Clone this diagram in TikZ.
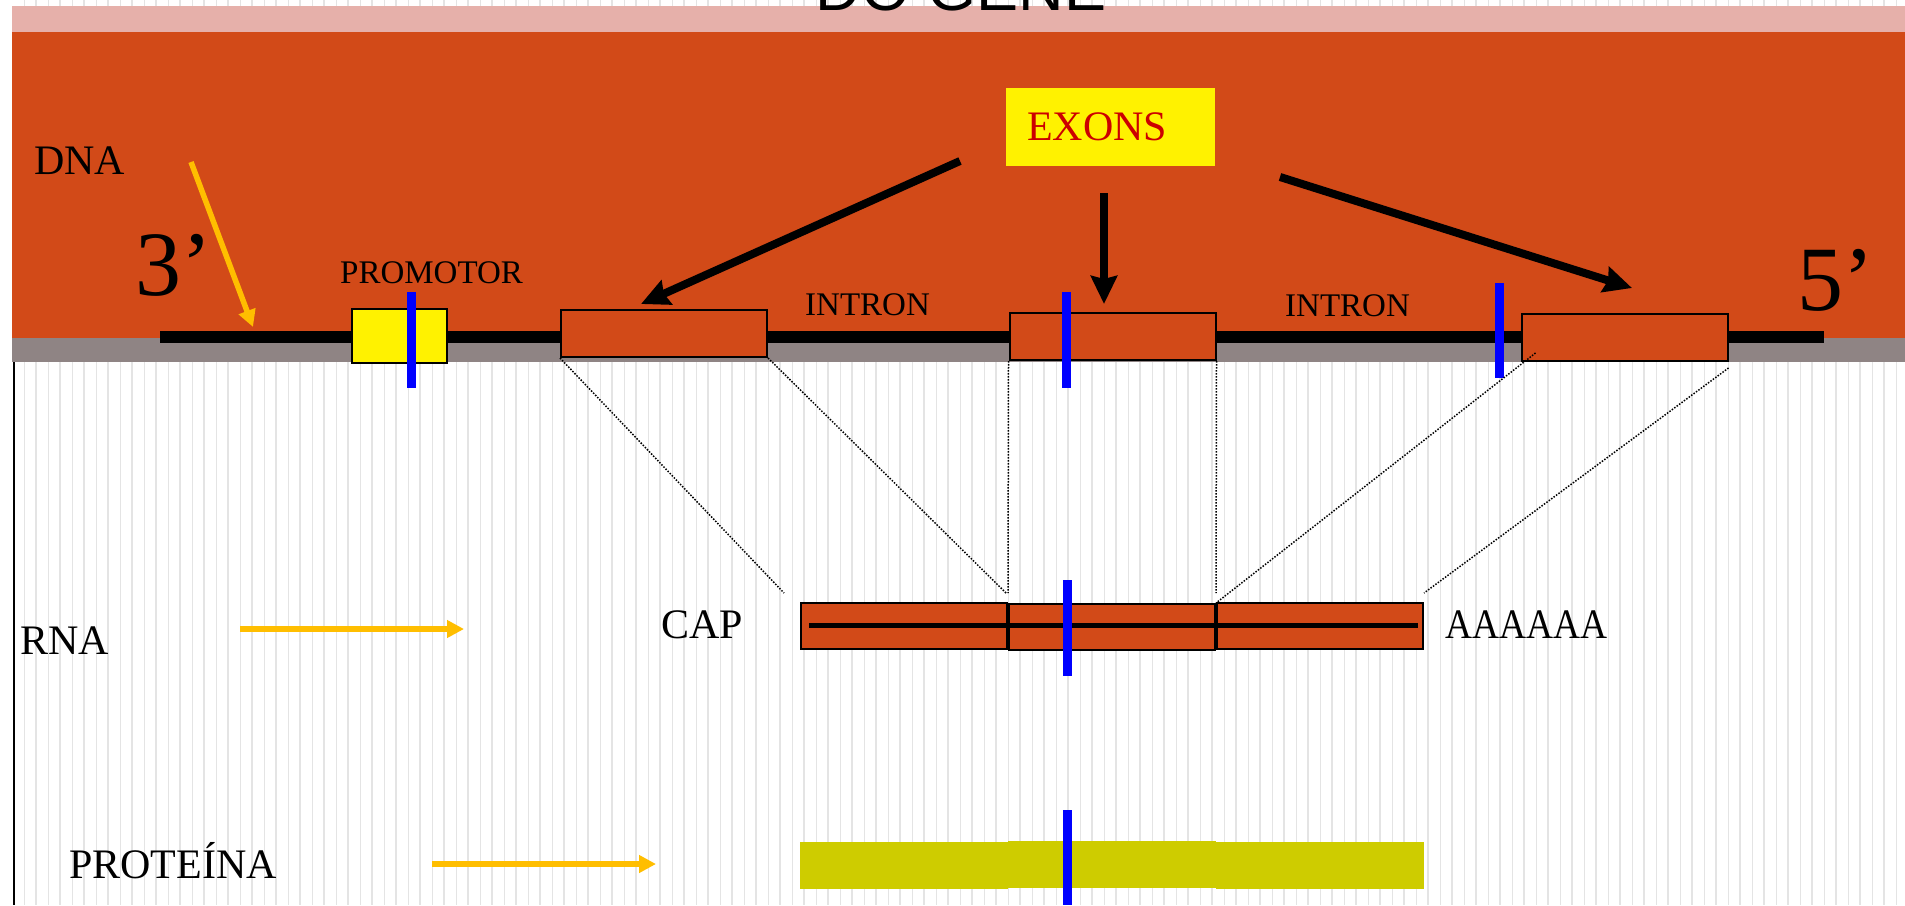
\documentclass[tikz,border=0pt]{standalone}
\usepackage{fontspec}
\setmainfont{Liberation Serif}
\newfontfamily\titlefont{Liberation Sans}
\usepackage{tikz}
\usetikzlibrary{arrows.meta, positioning, calc}
\definecolor{dnaorange}{RGB}{210, 74, 24}
\definecolor{bandpink}{RGB}{230, 176, 170}
\definecolor{bandgray}{RGB}{143, 132, 132}
\definecolor{markblue}{RGB}{0, 0, 255}
\definecolor{arrowgold}{RGB}{255, 190, 0}
\definecolor{protyellow}{RGB}{206, 204, 0}
\definecolor{exonred}{RGB}{204, 0, 0}
\definecolor{stripegray}{RGB}{228, 228, 228}

\tikzset{
    exonbox/.style={draw=black, line width=2pt, fill=dnaorange, inner sep=0pt,
                    minimum width=206pt, minimum height=47pt},
    rnabox/.style={exonbox, minimum height=46pt},
    protbox/.style={fill=protyellow, inner sep=0pt, minimum width=208pt, minimum height=47pt},
    bluebar/.style={draw=markblue, line width=9pt},
    splice/.style={black, line width=1.5pt, dash pattern=on 1.5pt off 1.5pt},
    exarrow/.style={line width=8pt, -{Stealth[length=28pt, width=26pt, inset=3pt]}},
    goldarrow/.style={arrowgold, line width=5.5pt, -{Triangle[length=17pt, width=17pt]}},
    lbl/.style={inner sep=0pt, anchor=base west, font=\fontsize{42}{48}\selectfont},
    sublbl/.style={lbl, font=\fontsize{33}{38}\selectfont},
    endlbl/.style={lbl, font=\fontsize{92}{100}\selectfont}
}

\begin{document}
\begin{tikzpicture}[x=1pt, y=-1pt]
    \useasboundingbox (0,0) rectangle (1905,905);
    \clip (0,0) rectangle (1905,905);
    \fill[white] (0,0) rectangle (1905,905);
    \foreach \x [count=\i] in {24,36,...,1900}
        \draw[stripegray, line width={mod(\i,2)==0 ? 1.8pt : 1pt}] (\x,0) -- (\x,905);

    \fill[bandpink] (12,6) rectangle (1905,32);
    \fill[dnaorange] (12,32) rectangle (1905,338);
    \fill[bandgray] (12,338) rectangle (1905,362);
    \draw[line width=1.5pt] (14,362) -- (14,905);

    \node[inner sep=0pt, anchor=base, font=\titlefont\fontsize{63}{70}\selectfont] (title) at (961,10) {DO GENE};

    \coordinate (dna3) at (160,337);
    \coordinate (dna5) at (1824,337);
    \draw[line width=12pt] (dna3) -- (dna5);

    \node[draw=black, line width=2pt, fill=yellow, inner sep=0pt,
          minimum width=95pt, minimum height=54pt] (promotor) at (399.5,336) {};
    \node[exonbox] (exonA) at (664,333.5) {};
    \node[exonbox] (exonB) at (1112.5,336.5) {};
    \node[exonbox] (exonC) at (1624.5,337.5) {};

    \draw[bluebar] (411,292) -- (411,388);
    \draw[bluebar] (1066,292) -- (1066,388);
    \draw[bluebar] (1499,283) -- (1499,378);

    \node[lbl] (dna) at (34,174) {DNA};
    \node[endlbl] (three) at (135,295) {3’};
    \node[endlbl] (five) at (1797,310) {5’};
    \node[sublbl] (promlbl) at (340,283) {PROMOTOR};
    \node[sublbl] (intronA) at (805,315) {INTRON};
    \node[sublbl] (intronB) at (1285,316) {INTRON};

    \node[fill=yellow, text=exonred, font=\fontsize{42}{48}\selectfont, inner xsep=21pt, inner ysep=0pt,
          text width=167pt, align=left, minimum height=78pt] (exons) at (1110.5,127) {EXONS};

    \coordinate (ptrA) at (960,161);
    \coordinate (ptrB) at (1104,193);
    \coordinate (ptrC) at (1280,177);
    \draw[exarrow] (ptrA) -- ($(exonA.north)+(-23,-5)$);
    \draw[exarrow] (ptrB) -- ($(exonB.north)+(-8.5,-8)$);
    \draw[exarrow] (ptrC) -- ($(exonC.north)+(7.5,-25)$);

    \coordinate (dnaptr) at (191,162);
    \draw[goldarrow] (dnaptr) -- (253,327);

    \node[rnabox] (rnaA) at (904,626) {};
    \node[rnabox] (rnaB) at (1112,627) {};
    \node[rnabox] (rnaC) at (1320,626) {};
    \draw[line width=5pt] ($(rnaA.west)+(9,-1)$) -- ($(rnaC.east)+(-6,-1)$);
    \draw[bluebar] (1067,580) -- (1067,676);

    \draw[splice] (exonA.south west) -- (784,593);
    \draw[splice] (exonA.south east) -- (1006,593);
    \draw[splice] (exonB.south west) -- (1008,593);
    \draw[splice] (exonB.south east) -- (1216,593);
    \draw[splice] ($(exonC.south west)+(15,-9)$) -- (rnaB.north east);
    \draw[splice] ($(exonC.south east)+(0,6)$) -- (1424,593);

    \node[lbl] (rna) at (20,654) {RNA};
    \node[lbl] (cap) at (661,638) {CAP};
    \node[lbl] (polya) at (1445,638) {\scalebox{0.89}[1]{AAAAAA}};
    \coordinate (rnaS) at (240,629);
    \coordinate (rnaE) at (464,629);
    \draw[goldarrow] (rnaS) -- (rnaE);

    \node[protbox] (protA) at (904,865.5) {};
    \node[protbox] (protB) at (1112,864) {};
    \node[protbox] (protC) at (1320,865.5) {};
    \draw[bluebar] (1067,810) -- (1067,905);

    \node[lbl] (prot) at (69,878) {PROTEÍNA};
    \coordinate (protS) at (432,864);
    \coordinate (protE) at (656,864);
    \draw[goldarrow] (protS) -- (protE);
\end{tikzpicture}
\end{document}
